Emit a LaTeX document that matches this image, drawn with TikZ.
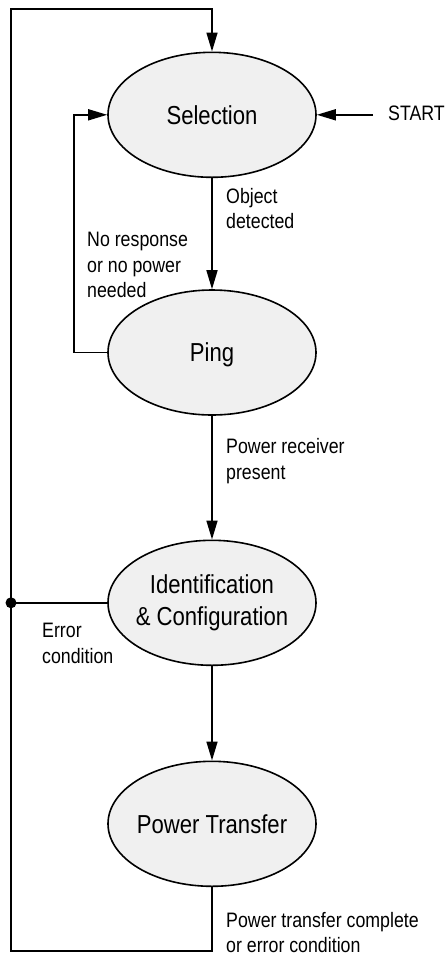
\documentclass[tikz,border=0pt]{standalone}
\usepackage{fontspec}
\newfontfamily\nar[FakeStretch=0.85]{Liberation Sans}
\usetikzlibrary{shapes.geometric,arrows.meta}
\definecolor{stfill}{HTML}{F0F0F0}
\tikzset{
  st/.style={ellipse, draw, line width=1.6pt, fill=stfill, minimum width=208pt,
    minimum height=125pt, inner sep=-20pt, font=\nar\fontsize{26}{32}\selectfont},
  lbl/.style={anchor=base west, inner sep=0pt, align=left,
    font=\nar\fontsize{20.9}{25.5}\selectfont},
  con/.style={line width=1.6pt},
  arr/.style={con, -{Triangle[length=19pt,width=11pt]}},
}
\begin{document}
\begin{tikzpicture}[x=1pt,y=-1pt]
\useasboundingbox (0,0) rectangle (445,959);
\node[st] (sel) at (212,114.8) {Selection};
\node[st, text depth=0pt] (ping) at (212,352.5) {Ping};
\node[st, align=center] (id) at (212,602.8) {Identification\\\& Configuration};
\node[st] (pt) at (212,823.8) {Power Transfer};

\coordinate (tl) at (11,9);
\coordinate (tr) at (212,9);
\coordinate (bl) at (11,951);
\coordinate (br) at (212,951);
\coordinate (pl) at (74,352.5);
\coordinate (sl) at (74,114.8);
\coordinate (dot) at (11,602.8);
\coordinate (startend) at (373,114.8);

\draw[arr] (sel.south) -- (ping.north);
\draw[arr] (ping.south) -- (id.north);
\draw[arr] (id.south) -- (pt.north);
\draw[arr] (pt.south) -- (br) -- (bl) -- (tl) -- (tr) -- (sel.north);
\draw[arr] (ping.west) -- (pl) -- (sl) -- (sel.west);
\draw[con] (id.west) -- (dot);
\fill (dot) circle (5.5pt);
\draw[arr] (startend) -- (sel.east);

\node[lbl] (start) at (388,120) {START};
\node[lbl] (obj) at (226,228.5) {Object\\detected};
\node[lbl] (nore) at (87,297.5) {No response\\or no power\\needed};
\node[lbl] (prp) at (226,479) {Power receiver\\present};
\node[lbl] (err) at (42,663) {Error\\condition};
\node[lbl] (ptc) at (226,952.5) {Power transfer complete\\or error condition};
\end{tikzpicture}
\end{document}
